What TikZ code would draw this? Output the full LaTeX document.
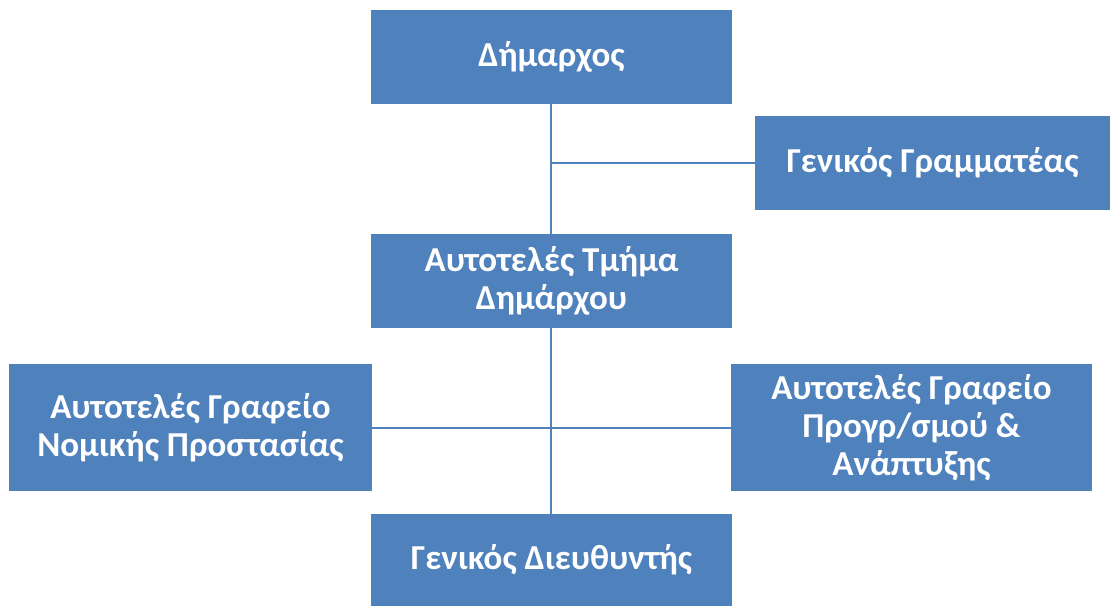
\documentclass[tikz,border=0pt]{standalone}
\usepackage{fontspec}
\setmainfont{Carlito}
\usetikzlibrary{backgrounds}
\definecolor{boxblue}{RGB}{79,129,189}
\begin{document}
\begin{tikzpicture}[x=1pt,y=-1pt,
  orgbox/.style={rectangle, fill=boxblue, draw=none, text=white, align=center,
    font=\fontsize{35}{38}\selectfont\bfseries, inner sep=0pt},
  link/.style={draw=boxblue, line width=2pt}]
\useasboundingbox (0,0) rectangle (1110,606);
\node[orgbox, minimum width=361pt, minimum height=94pt] (top) at (551.5,57) {Δήμαρχος};
\node[orgbox, minimum width=355pt, minimum height=94pt] (gg) at (932.5,163) {Γενικός Γραμματέας};
\node[orgbox, minimum width=361pt, minimum height=94pt] (mid) at (551.5,281) {Αυτοτελές Τμήμα\\Δημάρχου};
\node[orgbox, minimum width=363pt, minimum height=127pt] (left) at (190.5,427.5) {Αυτοτελές Γραφείο\\Νομικής Προστασίας};
\node[orgbox, minimum width=361pt, minimum height=127pt] (right) at (911.5,427.5) {Αυτοτελές Γραφείο\\Προγρ/σμού \&\\Ανάπτυξης};
\node[orgbox, minimum width=361pt, minimum height=92pt] (bot) at (551.5,560) {Γενικός Διευθυντής};
\begin{scope}[on background layer]
\draw[link] ([xshift=-1pt]top.south) -- ([xshift=-1pt]bot.north);
\draw[link] (gg.west) -- (gg.west -| bot.north);
\draw[link] (left.east) -- (right.west);
\end{scope}
\end{tikzpicture}
\end{document}
